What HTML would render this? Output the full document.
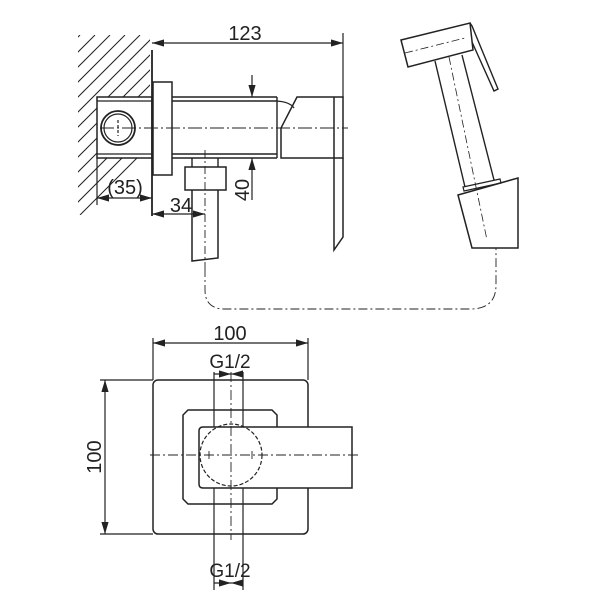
<!DOCTYPE html>
<html><head><style>html,body{margin:0;padding:0;background:#fff}svg{display:block}text{font-family:"Liberation Sans",sans-serif;fill:#222}</style></head>
<body>
<svg width="600" height="600" viewBox="0 0 600 600" xmlns="http://www.w3.org/2000/svg">
<defs>
<clipPath id="wall"><path d="M78 35 H150 V97 H97 V158 H150 V215 H78 Z"/></clipPath>
<marker id="a" viewBox="0 0 10 6" refX="10" refY="3" markerWidth="10" markerHeight="6" orient="auto-start-reverse"><path d="M0 0 L10 3 L0 6 Z" fill="#222"/></marker>
</defs>
<g stroke="#222" fill="none" stroke-width="1.2">
<g clip-path="url(#wall)" stroke-width="1">
<path d="M20 215 L200 35 M35 215 L215 35 M5 215 L185 35 M-10 215 L170 35 M-25 215 L155 35 M-40 215 L140 35 M-55 215 L125 35 M-70 215 L110 35 M-85 215 L95 35 M-100 215 L80 35 M50 215 L230 35 M65 215 L245 35 M80 215 L260 35"/>
</g>
<path d="M152 50 V216" stroke-width="1.8"/>
<path d="M152 43 H343" marker-start="url(#a)" marker-end="url(#a)"/>
<path d="M343 33 V98"/>
<rect x="97" y="97" width="55" height="61" stroke-width="1.5"/>
<path d="M97 101 H152 M97 154 H152"/>
<circle cx="118" cy="128" r="17" stroke-width="1.8"/>
<circle cx="118" cy="128" r="14"/>
<path d="M118 120 V136" stroke-dasharray="3 2"/>
<rect x="153" y="82" width="19" height="93" stroke-width="1.5"/>
<path d="M172 97 H277 M172 101 H277 M172 154 H277 M172 158 H277 M277 97 V158" stroke-width="1.4"/>
<path d="M277 101 Q290 102 294 108"/>
<path d="M297 97 H343 V158 H281 V128 Z" stroke-width="1.5"/>
<path d="M334 97 V250 L343 237 V158" stroke-width="1.5"/>
<path d="M100 128 H348" stroke-dasharray="14 3 2 3" stroke-width="0.9"/>
<path d="M252 75 V97" marker-end="url(#a)"/>
<path d="M252 200 V158" marker-end="url(#a)"/>
<path d="M192 158 V167 M218 158 V167" stroke-width="1.4"/>
<rect x="185" y="167" width="41" height="23" stroke-width="1.5"/>
<path d="M192 190 V261 L218 258 V190" stroke-width="1.5"/>
<path d="M205 150 V268" stroke-dasharray="8 3 2 3" stroke-width="0.9"/>
<path d="M97 158 V205"/>
<path d="M97 198 H152" marker-start="url(#a)" marker-end="url(#a)"/>
<path d="M152 214 H205" marker-start="url(#a)" marker-end="url(#a)"/>
<path d="M205 268 V290 Q205 309 225 309 H470 Q496 309 496 285 V248" stroke-dasharray="9 3 2 3" stroke-width="0.9"/>
<path d="M401 40 L470 23 L473 50 L408 67 Z" stroke-width="1.5"/>
<path d="M405 53 L465 38" stroke-dasharray="8 3 2 3" stroke-width="0.8"/>
<path d="M470 23 L472 26 L498 89 L494 91 L472 42" stroke-width="1.4"/>
<path d="M435 61 L465 187 M462 55 L494 180" stroke-width="1.4"/>
<path d="M449 57 L487 240" stroke-dasharray="8 3 2 3" stroke-width="0.8"/>
<path d="M463 187 L500 179 L501 183 L464 191 Z" stroke-width="1.2"/>
<path d="M458 195 L518 178 V248 H472 Z" stroke-width="1.5"/>
<path d="M153 343 H308" marker-start="url(#a)" marker-end="url(#a)"/>
<path d="M153 338 V380 M308 338 V380"/>
<rect x="153" y="380" width="155" height="154" rx="5" stroke-width="1.5"/>
<path d="M100 380 H153 M100 534 H153"/>
<path d="M105 380 V534" marker-start="url(#a)" marker-end="url(#a)"/>
<path d="M214 372 V428 M243 372 V428 M214 488 V590 M243 488 V590"/>
<path d="M214 374 H231" marker-end="url(#a)"/><path d="M243 374 H231" marker-end="url(#a)"/>
<path d="M214 583 H231" marker-end="url(#a)"/><path d="M243 583 H231" marker-end="url(#a)"/>
<path d="M188 410 H272 L277 415 V499 L272 504 H188 L183 499 V415 Z" stroke-width="1.5"/>
<path d="M203 427 H352 V488 H203 Q199 488 199 484 V431 Q199 427 203 427 Z" fill="#fff" stroke-width="1.5"/>
<circle cx="231" cy="455" r="31" stroke-dasharray="4 2"/>
<path d="M231 372 V540" stroke-dasharray="10 3 2 3" stroke-width="0.9"/>
<path d="M150 455 H358" stroke-dasharray="10 3 2 3" stroke-width="0.9"/>
<path d="M209 451 V459 M252 451 V459" stroke-width="0.9"/>
</g>
<g font-size="20">
<text x="245" y="40" text-anchor="middle">123</text>
<text x="125" y="194" text-anchor="middle">(35)</text>
<text x="181" y="212" text-anchor="middle">34</text>
<text transform="translate(249,190) rotate(-90)" text-anchor="middle">40</text>
<text x="230" y="340" text-anchor="middle">100</text>
<text x="230" y="368" text-anchor="middle" font-size="19">G1/2</text>
<text x="230" y="577" text-anchor="middle" font-size="19">G1/2</text>
<text transform="translate(101,457) rotate(-90)" text-anchor="middle">100</text>
</g>
</svg>
</body></html>
